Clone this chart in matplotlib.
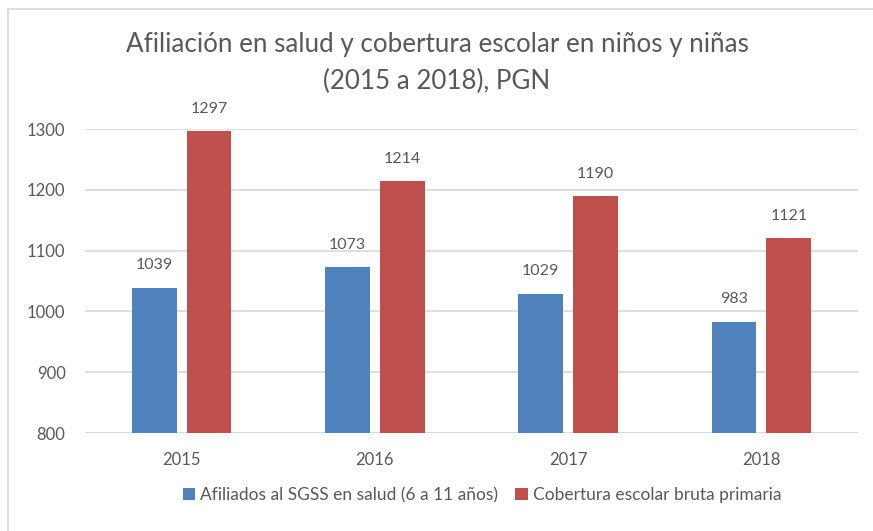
import matplotlib
matplotlib.use("Agg")
import matplotlib.pyplot as plt
import numpy as np
from matplotlib.lines import Line2D

years = ["2015", "2016", "2017", "2018"]
afiliados = [1039, 1073, 1029, 983]
cobertura = [1297, 1214, 1190, 1121]
series_names = ["Afiliados al SGSS en salud (6 a 11 años)", "Cobertura escolar bruta primaria"]
yticks = [800, 900, 1000, 1100, 1200, 1300]
title = "Afiliación en salud y cobertura escolar en niños y niñas\n(2015 a 2018), PGN"

plt.rcParams['font.family'] = ['Lato', 'DejaVu Sans']
txt = '#595959'
blue = '#4F81BD'
red = '#C0504D'

fig = plt.figure(figsize=(8.73, 5.31), dpi=100)
fig.lines.append(Line2D([8/873, 8/873], [0, 1-9/531], transform=fig.transFigure, color='#D9D9D9', linewidth=1.2))
fig.lines.append(Line2D([8/873, 1], [1-9/531, 1-9/531], transform=fig.transFigure, color='#D9D9D9', linewidth=1.2))
ax = fig.add_axes([85/873, (531-433)/531, (858-85)/873, (433-129)/531])

x = np.arange(len(years))
w = 0.232
off = 0.142
b1 = ax.bar(x - off, afiliados, w, color=blue, label=series_names[0], zorder=3)
b2 = ax.bar(x + off, cobertura, w, color=red, label=series_names[1], zorder=3)

for bars, vals in ((b1, afiliados), (b2, cobertura)):
    for r, v in zip(bars, vals):
        ax.annotate(str(v), (r.get_x() + r.get_width()/2, v), xytext=(0, 11), textcoords='offset points',
                    ha='center', va='bottom', fontsize=11.5, color=txt)

ax.set_xlim(-0.5, 3.5)
ax.set_ylim(800, 1300)
ax.set_yticks(yticks)
ax.set_xticks(x)
ax.set_xticklabels(years)
ax.tick_params(axis='both', length=0, labelsize=12, labelcolor=txt)
ax.tick_params(axis='x', pad=14)
ax.tick_params(axis='y', pad=14)
ax.grid(axis='y', color='#D9D9D9', linewidth=1.2, zorder=0)
for s in ax.spines.values():
    s.set_visible(False)
ax.axhline(800, color='#D9D9D9', linewidth=1.2, zorder=1)

fig.text(437/873, 1-63/531, title, ha='center', va='center', fontsize=18.7, color=txt, linespacing=1.6)

leg = fig.legend(handles=[b1, b2], loc='center', bbox_to_anchor=(482/873, 1-495/531), ncol=2, frameon=False,
                 fontsize=12.5, labelcolor=txt, handlelength=0.7, handleheight=0.7, handletextpad=0.3,
                 columnspacing=1.0)

fig.savefig("out.png", dpi=100, facecolor='white')
